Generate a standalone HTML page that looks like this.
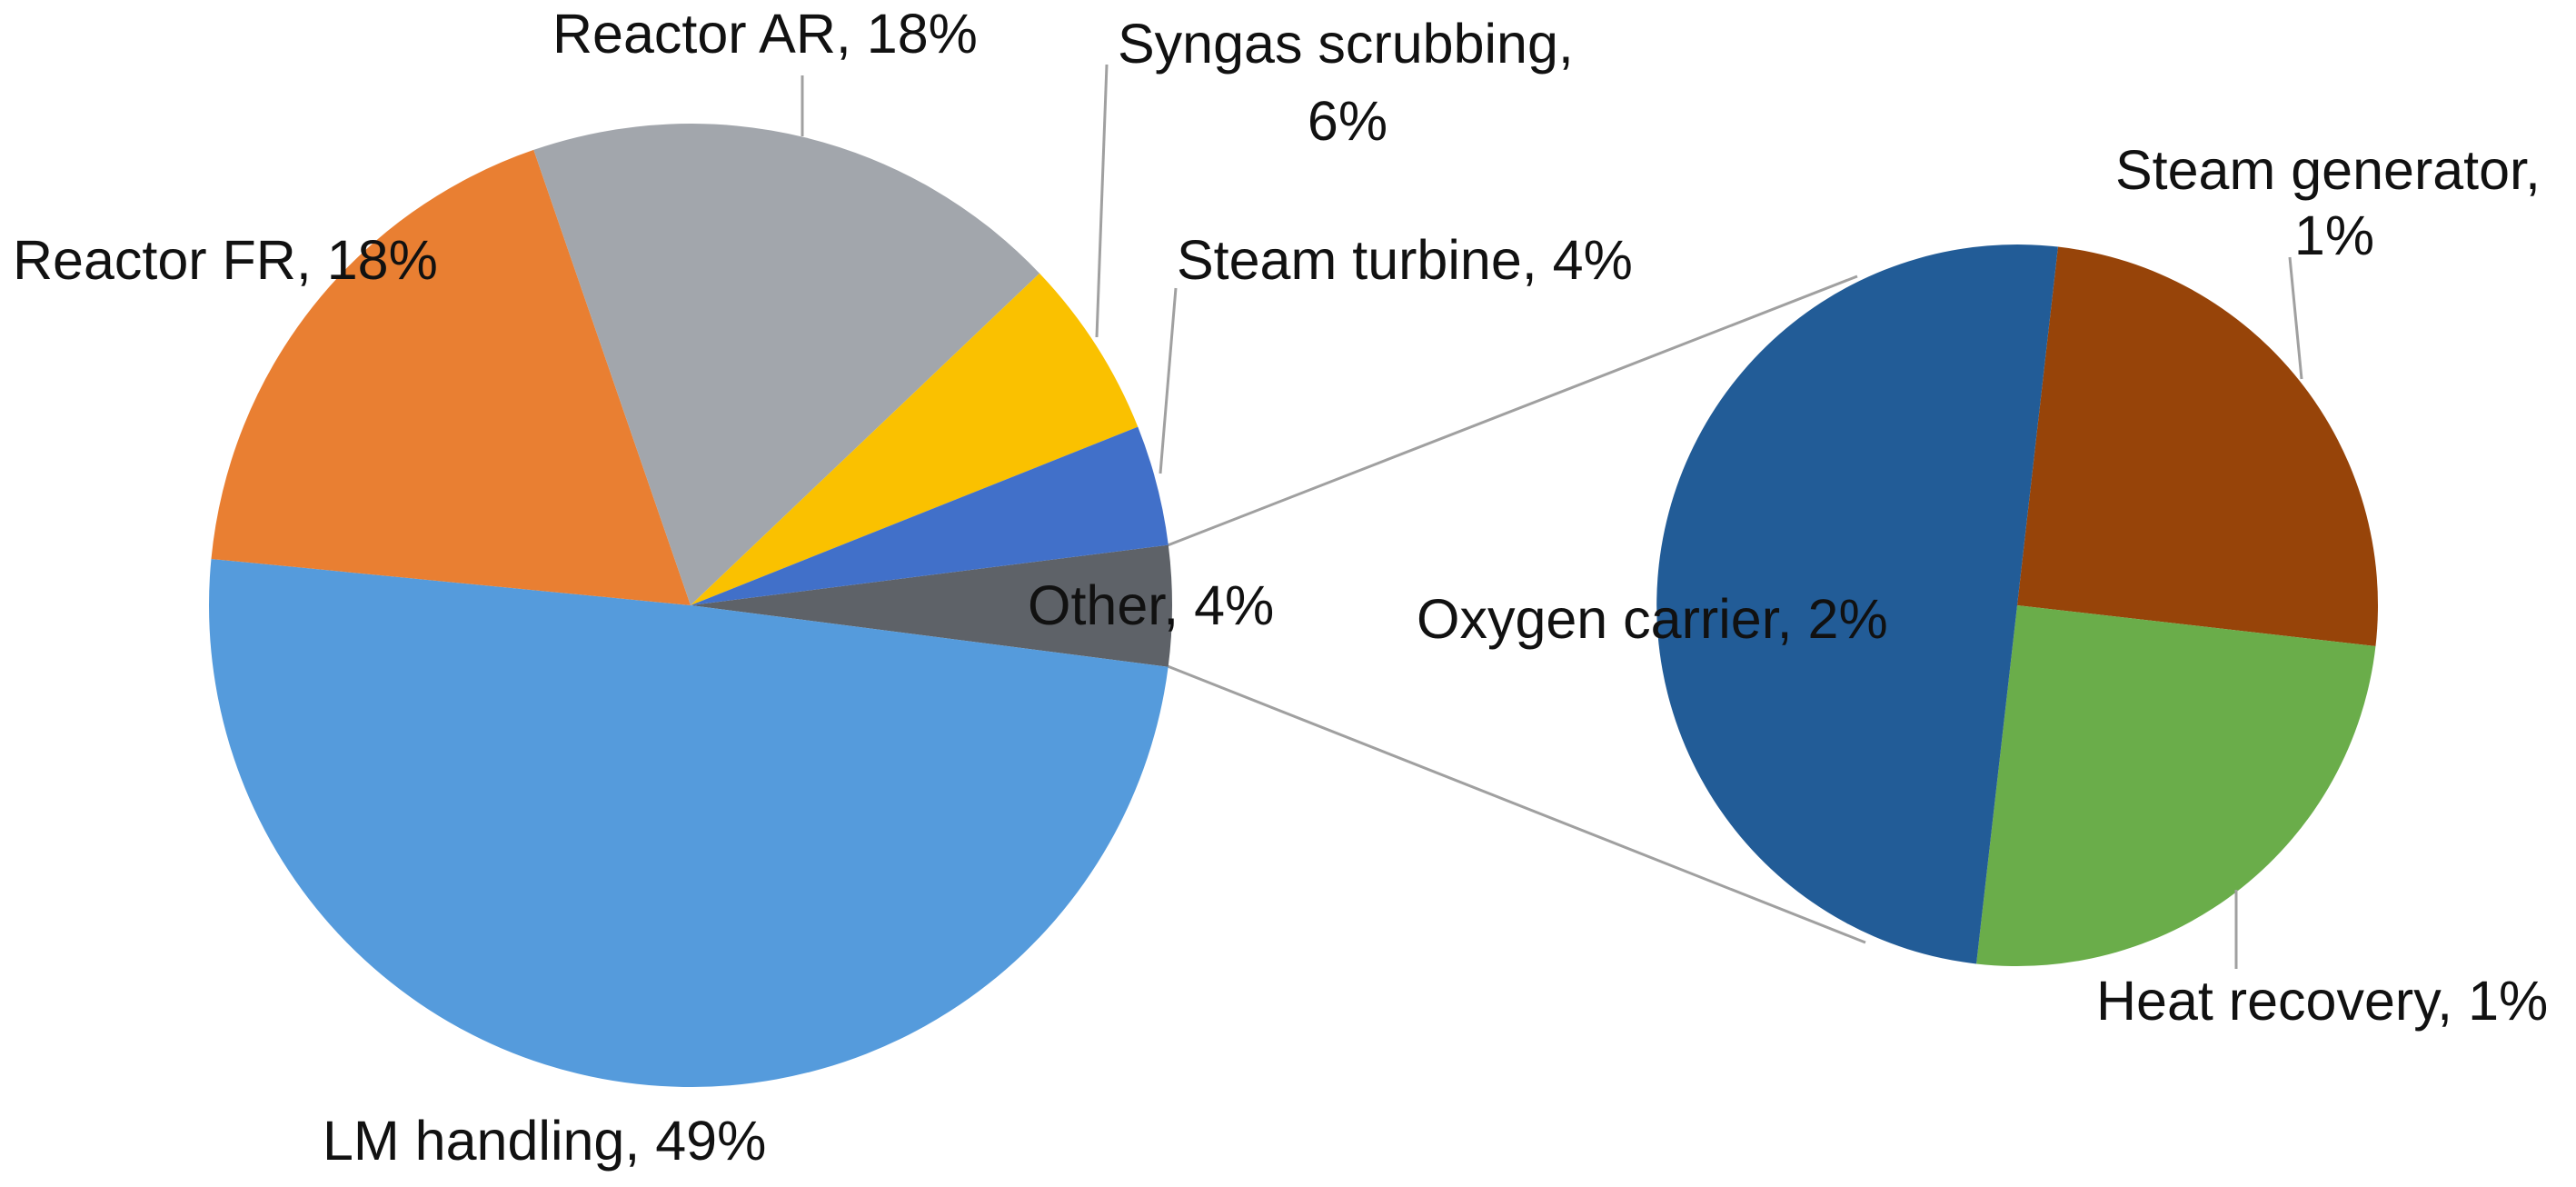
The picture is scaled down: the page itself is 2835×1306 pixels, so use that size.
<!DOCTYPE html>
<html><head><meta charset="utf-8"><style>
html,body{margin:0;padding:0;background:#fff;}
svg{display:block;font-family:"Liberation Sans",Arial,sans-serif;}
text{font-size:61px;fill:#111;dominant-baseline:middle;}
</style></head><body>
<svg id="chart" width="2835" height="1306" viewBox="0 0 2835 1306">
<g id="leaders" stroke="#a0a0a0" stroke-width="3" fill="none">
<line x1="1285" y1="600" x2="2044" y2="304"/>
<line x1="1285" y1="733" x2="2053" y2="1037"/>
</g>
<g id="main"></g>
<g id="sub"></g>
<g stroke="#a0a0a0" stroke-width="3" fill="none">
<line x1="883" y1="83" x2="883" y2="150"/>
<line x1="1218" y1="71" x2="1207" y2="371"/>
<line x1="1294" y1="317" x2="1277" y2="521"/>
<line x1="2520" y1="283" x2="2533" y2="417"/>
<line x1="2461" y1="979" x2="2461" y2="1066"/>
</g>
<g>
<text x="608" y="42">Reactor AR, 18%</text>
<text x="1230" y="53">Syngas scrubbing,</text>
<text x="1483" y="138" text-anchor="middle">6%</text>
<text x="14" y="291">Reactor FR, 18%</text>
<text x="1295" y="291">Steam turbine, 4%</text>
<text x="1131" y="671">Other, 4%</text>
<text x="1559" y="686">Oxygen carrier, 2%</text>
<text x="2328" y="192">Steam generator,</text>
<text x="2569" y="264" text-anchor="middle">1%</text>
<text x="2307" y="1106">Heat recovery, 1%</text>
<text x="355" y="1260">LM handling, 49%</text>
</g>
</svg>
<script>
const mainCategories = ["Other","LM handling","Reactor FR","Reactor AR","Syngas scrubbing","Steam turbine"];
const mainValues = [4,49,18,18,6,4];
const mainColors = ["#5E6268","#559BDC","#E97F32","#A2A6AC","#FAC100","#4170C9"];
const subCategories = ["Steam generator","Heat recovery","Oxygen carrier"];
const subValues = [1,1,2];
const subColors = ["#974409","#6AAD4A","#225C97"];

function drawPie(gid, cx, cy, r, startDeg, cats, vals, cols){
  const g = document.getElementById(gid);
  const total = vals.reduce((a,b)=>a+b,0);
  let a = startDeg*Math.PI/180;
  for(let i=0;i<vals.length;i++){
    const sweep = vals[i]/total*2*Math.PI;
    const a2 = a+sweep;
    const x1=cx+r*Math.cos(a), y1=cy+r*Math.sin(a);
    const x2=cx+r*Math.cos(a2), y2=cy+r*Math.sin(a2);
    const p = document.createElementNS("http://www.w3.org/2000/svg","path");
    p.setAttribute("d",`M${cx},${cy} L${x1},${y1} A${r},${r} 0 ${sweep>Math.PI?1:0} 1 ${x2},${y2} Z`);
    p.setAttribute("fill",cols[i]);
    
    
    g.appendChild(p);
    a = a2;
  }
}
drawPie("main",760,666,530,-7.2,mainCategories,mainValues,mainColors);
drawPie("sub",2220,666,397,-83.5,subCategories,subValues,subColors);
</script>
</body></html>
